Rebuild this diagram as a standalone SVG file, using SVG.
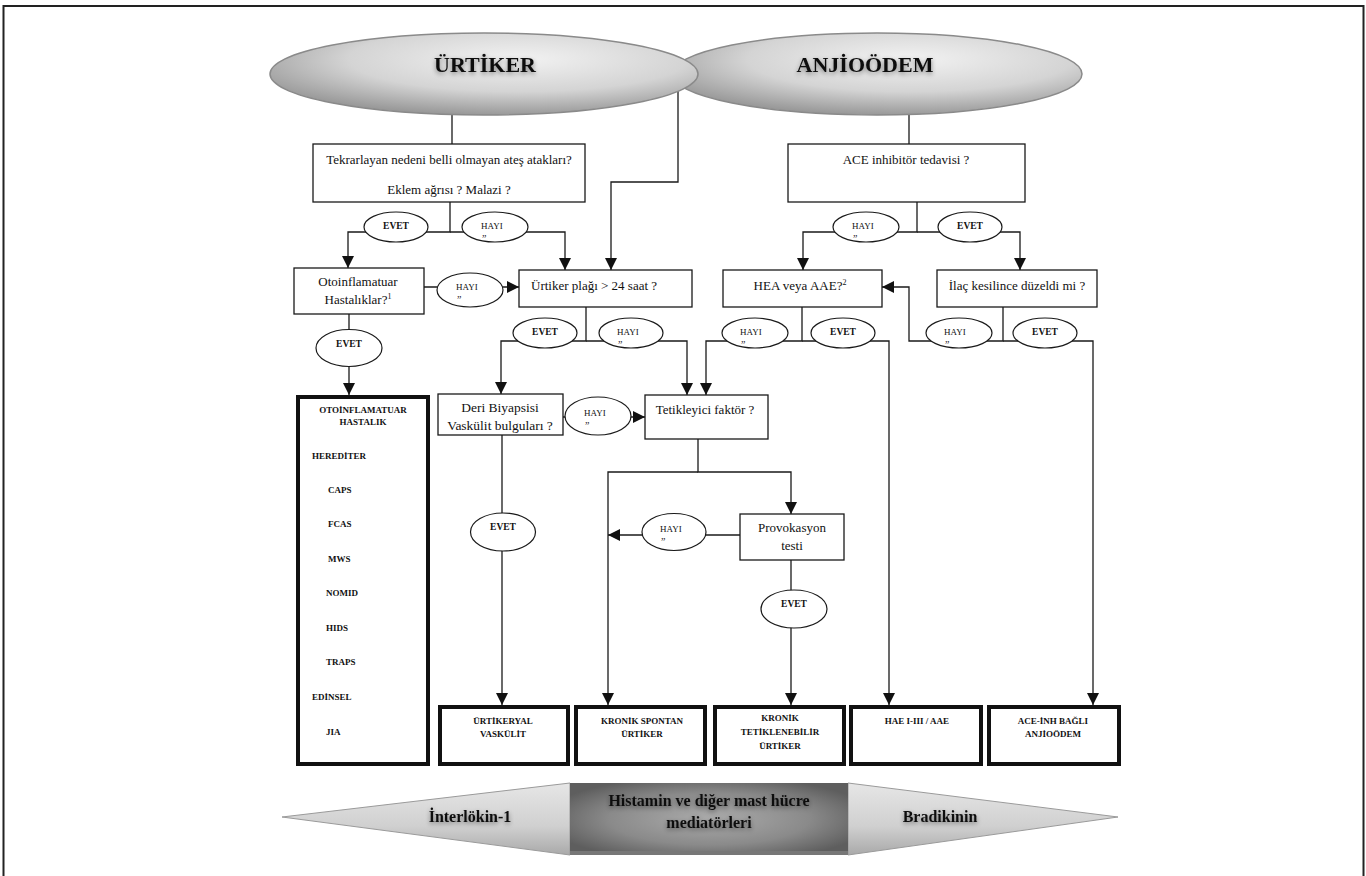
<svg xmlns="http://www.w3.org/2000/svg" width="1366" height="876" viewBox="0 0 1366 876">
<style>
.ln{fill:none;stroke:#1a1a1a;stroke-width:1.3}
.box{fill:#fff;stroke:#1a1a1a;stroke-width:1.3}
.tbox{fill:#fff;stroke:#111;stroke-width:4}
.lab{fill:#fff;stroke:#1a1a1a;stroke-width:1.2}
.t{font-family:"Liberation Serif","Times New Roman",serif;fill:#111}
.q{font-size:13px;text-anchor:middle}
.ev{font-size:9.5px;font-weight:bold;text-anchor:middle}
.hy{font-size:9px}
.mk{font-size:10px}
.sm{font-size:9px;font-weight:bold}
.smc{font-size:9px;font-weight:bold;text-anchor:middle}
.title{font-size:22px;font-weight:bold;text-anchor:middle}
.ban{font-size:16px;font-weight:bold;text-anchor:middle}
</style>
<defs>
<marker id="ah" markerUnits="userSpaceOnUse" markerWidth="12" markerHeight="12" refX="12" refY="6" orient="auto"><path d="M0,0 L12,6 L0,12 z" fill="#111"/></marker>
<radialGradient id="eg" cx="0.58" cy="0.32" r="0.72"><stop offset="0" stop-color="#f2f2f2"/><stop offset="0.55" stop-color="#d4d4d4"/><stop offset="1" stop-color="#919191"/></radialGradient>
<linearGradient id="tg" x1="0" y1="0" x2="0" y2="1"><stop offset="0" stop-color="#e6e6e6"/><stop offset="0.6" stop-color="#d0d0d0"/><stop offset="1" stop-color="#a9a9a9"/></linearGradient>
<radialGradient id="mg" cx="0.5" cy="0.5" r="0.6"><stop offset="0" stop-color="#ababab"/><stop offset="0.6" stop-color="#8a8a8a"/><stop offset="1" stop-color="#5e5e5e"/></radialGradient>
<filter id="sh" x="-20%" y="-60%" width="140%" height="220%"><feGaussianBlur in="SourceAlpha" stdDeviation="2.5"/><feOffset dx="0" dy="2"/><feComponentTransfer><feFuncA type="linear" slope="0.45"/></feComponentTransfer><feMerge><feMergeNode/><feMergeNode in="SourceGraphic"/></feMerge></filter>
</defs>
<rect x="0" y="0" width="1366" height="876" fill="#fff"/>
<rect x="3.5" y="6" width="1360" height="880" fill="none" stroke="#222" stroke-width="2"/>

<g id="connectors">
<path class="ln" d="M678,88 V182 H611 V270" marker-end="url(#ah)"/>
<path class="ln" d="M452,115 V144"/>
<path class="ln" d="M909,115 V144"/>
<path class="ln" d="M450,202 V232 H348 V268" marker-end="url(#ah)"/>
<path class="ln" d="M450,232 H565 V270" marker-end="url(#ah)"/>
<path class="ln" d="M917,202 V232 H803 V270" marker-end="url(#ah)"/>
<path class="ln" d="M917,232 H1020 V270" marker-end="url(#ah)"/>
<path class="ln" d="M424,287 H519" marker-end="url(#ah)"/>
<path class="ln" d="M349,314 V395" marker-end="url(#ah)"/>
<path class="ln" d="M586,307 V341 H501 V394" marker-end="url(#ah)"/>
<path class="ln" d="M586,341 H687 V395" marker-end="url(#ah)"/>
<path class="ln" d="M802,307 V341 H706 V395" marker-end="url(#ah)"/>
<path class="ln" d="M802,341 H889 V705" marker-end="url(#ah)"/>
<path class="ln" d="M1003,307 V341 H909 V287 H882" marker-end="url(#ah)"/>
<path class="ln" d="M1003,341 H1093 V705" marker-end="url(#ah)"/>
<path class="ln" d="M563,417 H645" marker-end="url(#ah)"/>
<path class="ln" d="M502,435 V705" marker-end="url(#ah)"/>
<path class="ln" d="M698,439 V472 H791 V514" marker-end="url(#ah)"/>
<path class="ln" d="M698,472 H608 V705" marker-end="url(#ah)"/>
<path class="ln" d="M740,535 H608" marker-end="url(#ah)"/>
<path class="ln" d="M791,560 V705" marker-end="url(#ah)"/>
</g>

<g id="anjioodem">
<ellipse cx="877" cy="74" rx="205" ry="41" fill="url(#eg)" stroke="#8a8a8a" stroke-width="1.5"/>
<text class="t title" x="865" y="72" filter="url(#sh)">ANJİOÖDEM</text>
</g>
<g id="urtiker">
<ellipse cx="484" cy="74" rx="214" ry="41" fill="url(#eg)" stroke="#8a8a8a" stroke-width="1.5"/>
<text class="t title" x="485" y="72" filter="url(#sh)">ÜRTİKER</text>
</g>

<g id="q-ates">
<rect class="box" x="313" y="144" width="272" height="58"/>
<text class="t q" x="449" y="164">Tekrarlayan nedeni belli olmayan ateş atakları?</text>
<text class="t q" x="449" y="194">Eklem ağrısı ? Malazi ?</text>
</g>
<g id="q-ace">
<rect class="box" x="788" y="144" width="237" height="58"/>
<text class="t q" x="906" y="164">ACE inhibitör tedavisi ?</text>
</g>

<g id="l-evet1"><ellipse class="lab" cx="396" cy="227" rx="32" ry="15"/><text class="t ev" x="396" y="229">EVET</text></g>
<g id="l-hayi1"><ellipse class="lab" cx="495" cy="227" rx="33" ry="15"/><text class="t hy" x="481" y="229">HAYI</text><text class="t mk" x="482" y="242">”</text></g>
<g id="l-hayi2"><ellipse class="lab" cx="866" cy="227" rx="33" ry="15"/><text class="t hy" x="852" y="229">HAYI</text><text class="t mk" x="853" y="242">”</text></g>
<g id="l-evet2"><ellipse class="lab" cx="970" cy="227" rx="32" ry="15"/><text class="t ev" x="970" y="229">EVET</text></g>

<g id="q-otoinf">
<rect class="box" x="294" y="268" width="130" height="46"/>
<text class="t q" x="358" y="286">Otoinflamatuar</text>
<text class="t q" x="358" y="304">Hastalıklar?<tspan font-size="8" dy="-5">1</tspan></text>
</g>
<g id="l-hayi3"><ellipse class="lab" cx="470" cy="290" rx="33" ry="17"/><text class="t hy" x="456" y="290">HAYI</text><text class="t mk" x="457" y="303">”</text></g>

<g id="q-plak">
<rect class="box" x="519" y="270" width="173" height="37"/>
<text class="t" font-size="13" x="531" y="290">Ürtiker plağı &gt; 24 saat ?</text>
</g>
<g id="q-hea">
<rect class="box" x="723" y="270" width="159" height="37"/>
<text class="t q" x="800" y="290">HEA veya AAE?<tspan font-size="8" dy="-5">2</tspan></text>
</g>
<g id="q-ilac">
<rect class="box" x="937" y="270" width="160" height="37"/>
<text class="t q" x="1017" y="290">İlaç kesilince düzeldi mi ?</text>
</g>

<g id="l-evet3"><ellipse class="lab" cx="349" cy="348" rx="33" ry="18.5"/><text class="t ev" x="349" y="347">EVET</text></g>
<g id="l-evet4"><ellipse class="lab" cx="545" cy="333" rx="32" ry="15"/><text class="t ev" x="545" y="335">EVET</text></g>
<g id="l-hayi4"><ellipse class="lab" cx="631" cy="333" rx="32" ry="15"/><text class="t hy" x="617" y="335">HAYI</text><text class="t mk" x="618" y="348">”</text></g>
<g id="l-hayi5"><ellipse class="lab" cx="755" cy="333" rx="33" ry="15"/><text class="t hy" x="740" y="335">HAYI</text><text class="t mk" x="741" y="348">”</text></g>
<g id="l-evet5"><ellipse class="lab" cx="843" cy="333" rx="32" ry="15"/><text class="t ev" x="843" y="335">EVET</text></g>
<g id="l-hayi6"><ellipse class="lab" cx="959" cy="333" rx="33" ry="15"/><text class="t hy" x="944" y="335">HAYI</text><text class="t mk" x="945" y="348">”</text></g>
<g id="l-evet6"><ellipse class="lab" cx="1045" cy="333" rx="32" ry="15"/><text class="t ev" x="1045" y="335">EVET</text></g>

<g id="r-otoinf">
<rect class="tbox" x="298" y="397" width="130" height="367"/>
<text class="t smc" x="363" y="413">OTOİNFLAMATUAR</text>
<text class="t smc" x="363" y="425">HASTALIK</text>
<text class="t sm" x="312" y="459">HEREDİTER</text>
<text class="t sm" x="328" y="493">CAPS</text>
<text class="t sm" x="328" y="527">FCAS</text>
<text class="t sm" x="328" y="562">MWS</text>
<text class="t sm" x="326" y="596">NOMID</text>
<text class="t sm" x="326" y="631">HIDS</text>
<text class="t sm" x="326" y="665">TRAPS</text>
<text class="t sm" x="312" y="700">EDİNSEL</text>
<text class="t sm" x="326" y="735">JIA</text>
</g>

<g id="q-deri">
<rect class="box" x="438" y="394" width="125" height="41"/>
<text class="t" font-size="13.5" text-anchor="middle" x="500" y="412">Deri  Biyapsisi</text>
<text class="t" font-size="13.5" text-anchor="middle" x="500" y="430">Vaskülit bulguları ?</text>
</g>
<g id="l-hayi7"><ellipse class="lab" cx="598" cy="416" rx="33" ry="19"/><text class="t hy" x="584" y="416">HAYI</text><text class="t mk" x="585" y="429">”</text></g>
<g id="q-tetik">
<rect class="box" x="645" y="395" width="123" height="44"/>
<text class="t q" x="705" y="414">Tetikleyici faktör  ?</text>
</g>

<g id="l-evet7"><ellipse class="lab" cx="503" cy="532" rx="32.5" ry="19"/><text class="t ev" x="503" y="530">EVET</text></g>
<g id="l-hayi8"><ellipse class="lab" cx="674" cy="532" rx="32" ry="18.5"/><text class="t hy" x="660" y="532">HAYI</text><text class="t mk" x="661" y="545">”</text></g>
<g id="q-prov">
<rect class="box" x="740" y="514" width="104" height="46"/>
<text class="t q" x="792" y="532">Provokasyon</text>
<text class="t q" x="792" y="550">testi</text>
</g>
<g id="l-evet8"><ellipse class="lab" cx="794" cy="609" rx="33" ry="19"/><text class="t ev" x="794" y="607">EVET</text></g>

<g id="r-uv">
<rect class="tbox" x="440" y="707" width="128" height="57"/>
<text class="t smc" x="503" y="724">ÜRTİKERYAL</text>
<text class="t smc" x="503" y="737">VASKÜLİT</text>
</g>
<g id="r-ksu">
<rect class="tbox" x="576" y="707" width="129" height="57"/>
<text class="t smc" x="642" y="724">KRONİK SPONTAN</text>
<text class="t smc" x="642" y="737">ÜRTİKER</text>
</g>
<g id="r-ktu">
<rect class="tbox" x="715" y="707" width="129" height="57"/>
<text class="t smc" x="780" y="721">KRONİK</text>
<text class="t smc" x="780" y="735">TETİKLENEBİLİR</text>
<text class="t smc" x="780" y="749">ÜRTİKER</text>
</g>
<g id="r-hae">
<rect class="tbox" x="851" y="707" width="130" height="57"/>
<text class="t smc" x="917" y="724">HAE I-III / AAE</text>
</g>
<g id="r-aceinh">
<rect class="tbox" x="989" y="707" width="130" height="57"/>
<text class="t smc" x="1053" y="724">ACE-İNH BAĞLI</text>
<text class="t smc" x="1053" y="737">ANJİOÖDEM</text>
</g>

<g id="banner">
<path d="M282,817 L570,783 L570,855 Z" fill="url(#tg)" stroke="#9a9a9a" stroke-width="1"/>
<path d="M1118,817 L848,783 L848,855 Z" fill="url(#tg)" stroke="#9a9a9a" stroke-width="1"/>
<rect x="570" y="783" width="278" height="72" fill="url(#mg)"/>
<rect x="570" y="851" width="278" height="4" fill="#777"/>
<text class="t ban" x="470" y="822" filter="url(#sh)">İnterlökin-1</text>
<text class="t ban" x="709" y="806" filter="url(#sh)">Histamin ve diğer mast hücre</text>
<text class="t ban" x="709" y="828" filter="url(#sh)">mediatörleri</text>
<text class="t ban" x="940" y="822" filter="url(#sh)">Bradikinin</text>
</g>
</svg>
